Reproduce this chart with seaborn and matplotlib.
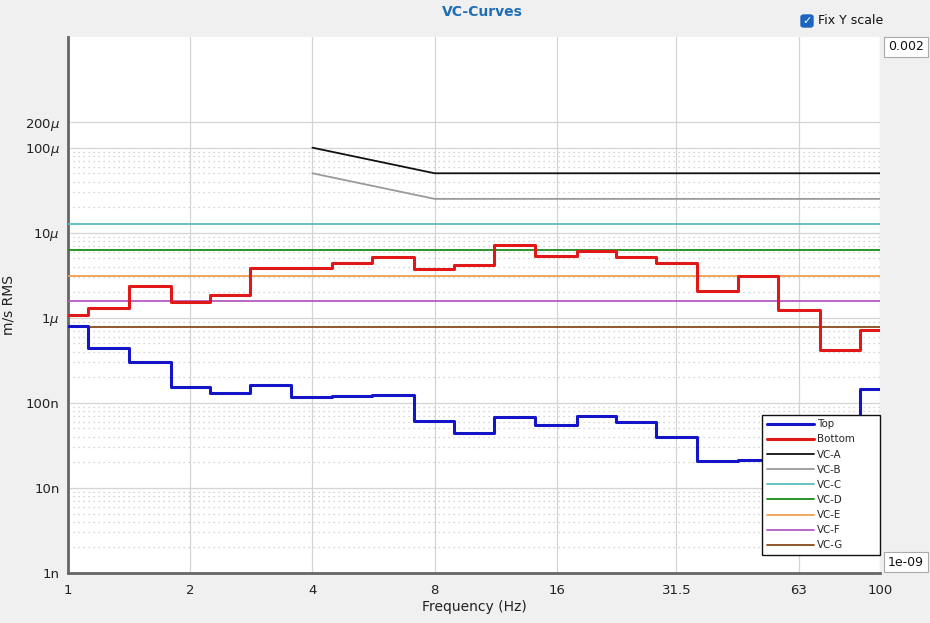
import numpy as np
import pandas as pd
import matplotlib
matplotlib.use("Agg")
import matplotlib.pyplot as plt
from matplotlib.ticker import FixedLocator, NullFormatter
from matplotlib.patches import FancyBboxPatch
import seaborn as sns

# ---------------- data ----------------
band_centers = [1, 1.25, 1.6, 2, 2.5, 3.15, 4, 5, 6.3, 8, 10, 12.5, 16, 20, 25,
                31.5, 40, 50, 63, 80, 100]
top_values = [8.1e-7, 4.4e-7, 3.0e-7, 1.52e-7, 1.30e-7, 1.61e-7, 1.16e-7, 1.19e-7,
              1.23e-7, 6.2e-8, 4.4e-8, 6.8e-8, 5.5e-8, 7.1e-8, 5.9e-8, 3.95e-8,
              2.05e-8, 2.15e-8, 2.6e-8, 4.0e-8, 1.44e-7]
bottom_values = [1.07e-6, 1.32e-6, 2.34e-6, 1.52e-6, 1.83e-6, 3.8e-6, 3.9e-6, 4.45e-6,
                 5.25e-6, 3.7e-6, 4.2e-6, 7.2e-6, 5.4e-6, 6.15e-6, 5.25e-6, 4.35e-6,
                 2.09e-6, 3.09e-6, 1.22e-6, 4.2e-7, 7.2e-7]

vc_names = ["VC-A", "VC-B", "VC-C", "VC-D", "VC-E", "VC-F", "VC-G"]
vc_freqs = {
    "VC-A": [4, 8, 100],
    "VC-B": [4, 8, 100],
    "VC-C": [1, 100],
    "VC-D": [1, 100],
    "VC-E": [1, 100],
    "VC-F": [1, 100],
    "VC-G": [1, 100],
}
vc_values = {
    "VC-A": [100e-6, 50e-6, 50e-6],
    "VC-B": [50e-6, 25e-6, 25e-6],
    "VC-C": [12.5e-6, 12.5e-6],
    "VC-D": [6.25e-6, 6.25e-6],
    "VC-E": [3.12e-6, 3.12e-6],
    "VC-F": [1.56e-6, 1.56e-6],
    "VC-G": [0.78e-6, 0.78e-6],
}
x_ticks = [1, 2, 4, 8, 16, 31.5, 63, 100]
x_tick_labels = ["1", "2", "4", "8", "16", "31.5", "63", "100"]
y_ticks = [1e-9, 1e-8, 1e-7, 1e-6, 1e-5, 1e-4, 2e-4]
y_tick_labels = ["1n", "10n", "100n", r"1$\mu$", r"10$\mu$", r"100$\mu$", r"200$\mu$"]

colors = {
    "Top": "#1414c8",
    "Bottom": "#e01818",
    "VC-A": "#111111",
    "VC-B": "#9a9a9a",
    "VC-C": "#5cbcbc",
    "VC-D": "#1a8c1a",
    "VC-E": "#f0a050",
    "VC-F": "#b45ac4",
    "VC-G": "#8c4a1c",
}

# ---------------- figure ----------------
sns.set_style("white")
plt.rcParams["font.family"] = ["DejaVu Sans"]
fig = plt.figure(figsize=(9.3, 6.23), dpi=100, facecolor="#f0f0f0")
ax = fig.add_axes([68 / 930, 50 / 623, 812 / 930, 536 / 623])
ax.set_facecolor("white")
ax.set_xscale("log")
ax.set_yscale("log")

# step edges (geometric midpoints between band centres)
bc = np.array(band_centers, dtype=float)
edges = np.concatenate([[bc[0]], np.sqrt(bc[:-1] * bc[1:]), [bc[-1]]])

handles = {}
for name in vc_names:
    df = pd.DataFrame({"f": vc_freqs[name], "v": vc_values[name]})
    sns.lineplot(data=df, x="f", y="v", ax=ax, color=colors[name], lw=1.3,
                 estimator=None, sort=False, zorder=3)
    handles[name] = ax.lines[-1]

for name, vals in [("Top", top_values), ("Bottom", bottom_values)]:
    df = pd.DataFrame({"f": edges, "v": list(vals) + [vals[-1]]})
    sns.lineplot(data=df, x="f", y="v", ax=ax, color=colors[name], lw=2.2,
                 estimator=None, sort=False, drawstyle="steps-post", zorder=4)
    handles[name] = ax.lines[-1]

ax.set_xlim(1, 100)
ax.set_ylim(1e-9, 2e-3)

# ticks
ax.set_xticks(x_ticks)
ax.set_xticklabels(x_tick_labels)
ax.xaxis.set_minor_locator(FixedLocator([]))
ax.set_yticks(y_ticks)
ax.set_yticklabels(y_tick_labels)
minor_y = [m * 10.0 ** e for e in range(-9, -4) for m in range(2, 10)]
ax.yaxis.set_minor_locator(FixedLocator(minor_y))
ax.yaxis.set_minor_formatter(NullFormatter())
ax.tick_params(axis="both", which="major", direction="in", length=5, width=1.2,
               color="#444444", labelsize=9.5, labelcolor="#222222", pad=6)
ax.tick_params(axis="y", which="minor", direction="in", length=3, width=1.0,
               color="#444444")
ax.tick_params(axis="x", which="major", pad=8)

# grid
ax.grid(True, which="major", axis="both", color="#d4d4d4", lw=0.9, ls="-", zorder=0)
ax.grid(True, which="minor", axis="y", color="#c8c8c8", lw=0.9, ls=(0, (1, 3)), zorder=0)

for s in ["top", "right"]:
    ax.spines[s].set_visible(False)
for s in ["left", "bottom"]:
    ax.spines[s].set_color("#666666")
    ax.spines[s].set_linewidth(2.0)

ax.set_xlabel("Frequency (Hz)", fontsize=10, color="#222222", labelpad=2)
ax.set_ylabel("m/s RMS", fontsize=10, color="#222222")
ax.yaxis.set_label_coords((15 - 68) / 812, 0.5)

order = ["Top", "Bottom"] + vc_names
leg = ax.legend([handles[n] for n in order], order, loc="lower left",
                bbox_to_anchor=((762 - 68) / 812, 18 / 536, 118 / 812, 144 / 536),
                mode="expand", fontsize=7.4, frameon=True,
                fancybox=False, edgecolor="#111111", handlelength=4.6,
                labelspacing=0.5, borderpad=0.45, handletextpad=0.3,
                borderaxespad=0.0)
leg.get_frame().set_linewidth(1.0)
leg.get_frame().set_alpha(1.0)
leg.set_zorder(10)

# title
fig.text(482 / 930, 1 - 12 / 623, "VC-Curves", ha="center", va="center",
         fontsize=10, fontweight="bold", color="#1f6db4")

# checkbox
cb = FancyBboxPatch((801 / 930, 1 - 27 / 623), 12 / 930, 12 / 623,
                    boxstyle="round,pad=0,rounding_size=0.003",
                    transform=fig.transFigure, facecolor="#1a66c0",
                    edgecolor="#1a66c0", figure=fig)
fig.patches.append(cb)
fig.text(807 / 930, 1 - 21 / 623, "\u2713", ha="center", va="center",
         fontsize=8, color="white", fontweight="bold")
fig.text(818 / 930, 1 - 21 / 623, "Fix Y scale", ha="left", va="center",
         fontsize=9, color="#111111")

# value boxes
box = dict(boxstyle="square,pad=0.3", facecolor="white", edgecolor="#aaaaaa", lw=0.8)
fig.text(906 / 930, 1 - 47 / 623, "0.002", ha="center", va="center",
         fontsize=9, color="#111111", bbox=box)
fig.text(906 / 930, 1 - 562 / 623, "1e-09", ha="center", va="center",
         fontsize=9, color="#111111", bbox=box)

fig.savefig("out.png", dpi=100, facecolor=fig.get_facecolor())
